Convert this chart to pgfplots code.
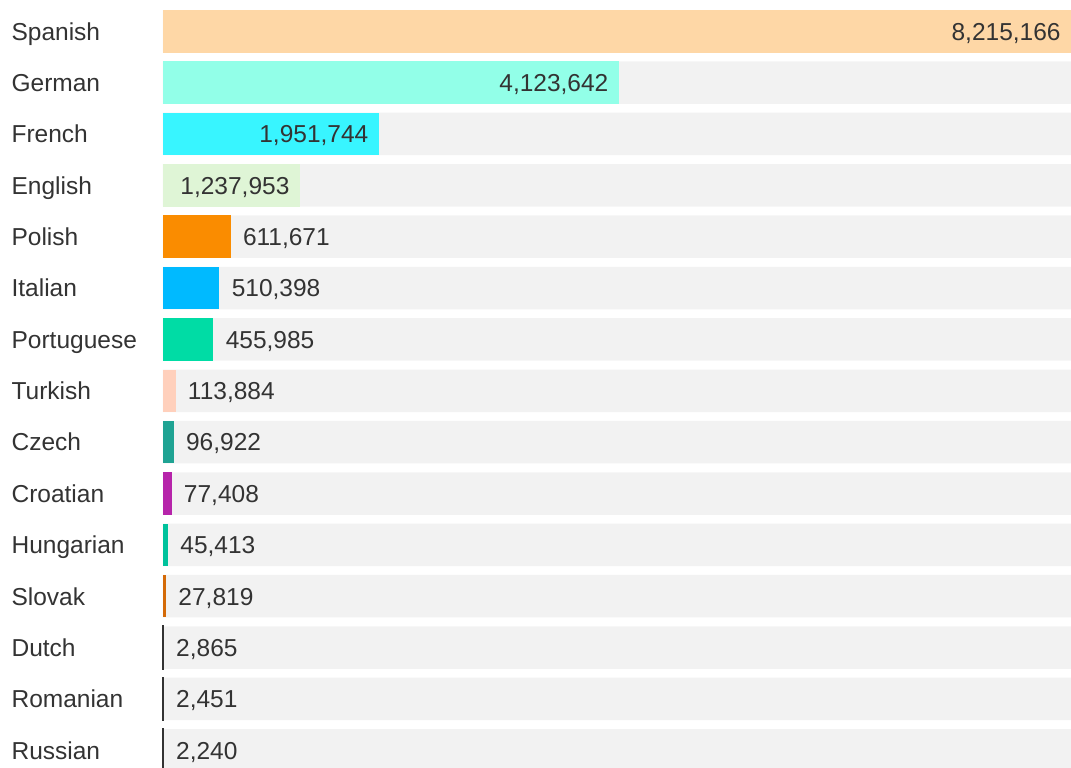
\documentclass[border=0pt]{standalone}
\usepackage{pgfplots}
\pgfplotsset{compat=1.18}
\usepackage{fontspec}
\setmainfont{Liberation Sans}
\definecolor{txt}{HTML}{333333}
\definecolor{bg}{HTML}{F2F2F2}
\definecolor{cSpa}{HTML}{FED7A6}
\definecolor{cGer}{HTML}{92FFE8}
\definecolor{cFre}{HTML}{38F5FF}
\definecolor{cEng}{HTML}{DFF5D6}
\definecolor{cPol}{HTML}{FA8C00}
\definecolor{cIta}{HTML}{00BAFF}
\definecolor{cPor}{HTML}{00DCA5}
\definecolor{cTur}{HTML}{FFD0BC}
\definecolor{cCze}{HTML}{1FA393}
\definecolor{cCro}{HTML}{B624AA}
\definecolor{cHun}{HTML}{00C29C}
\definecolor{cSlo}{HTML}{D46A08}
\definecolor{cDark}{HTML}{333333}
\begin{document}
\begin{tikzpicture}[x=1pt,y=1pt]
\useasboundingbox (0,0) rectangle (535.5,-383.5);
\clip (0,0) rectangle (535.5,-383.5);
\begin{axis}[
  at={(81.5pt,0pt)}, anchor=north west,
  scale only axis, width=454pt, height=383.5pt,
  xbar, bar shift=0pt, bar width=0.8275,
  xmin=0, xmax=8215166, ymin=-0.6085, ymax=14.325,
  y dir=reverse, enlargelimits=false, clip=false,
  axis line style={draw=none}, xtick=\empty, ytick={0,...,14},
  yticklabels={Spanish,German,French,English,Polish,Italian,Portuguese,Turkish,Czech,Croatian,Hungarian,Slovak,Dutch,Romanian,Russian},
  major tick length=0pt,
  yticklabel style={font=\fontsize{12.25}{14}\selectfont, text=txt, text width=75.5pt, align=left, inner sep=0pt, text height=8.8pt, text depth=0pt},
  inlab/.style={point meta=explicit symbolic, nodes near coords,
    nodes near coords style={anchor=east, xshift=-5pt, inner sep=0pt, font=\fontsize{12.25}{14}\selectfont, text=txt, text height=8.8pt, text depth=0pt}},
  outlab/.style={point meta=explicit symbolic, nodes near coords,
    nodes near coords style={anchor=west, xshift=6pt, inner sep=0pt, font=\fontsize{12.25}{14}\selectfont, text=txt, text height=8.8pt, text depth=0pt}},
]
\addplot[fill=bg, draw=none] coordinates {
 (8215166,0) (8215166,1) (8215166,2) (8215166,3) (8215166,4)
 (8215166,5) (8215166,6) (8215166,7) (8215166,8) (8215166,9)
 (8215166,10) (8215166,11) (8215166,12) (8215166,13) (8215166,14)};
\addplot[fill=cSpa, draw=none, inlab] coordinates {(8215166,0) [8,215,166]};
\addplot[fill=cGer, draw=none, inlab] coordinates {(4123642,1) [4,123,642]};
\addplot[fill=cFre, draw=none, inlab] coordinates {(1951744,2) [1,951,744]};
\addplot[fill=cEng, draw=none, inlab] coordinates {(1237953,3) [1,237,953]};
\addplot[fill=cPol, draw=none, outlab] coordinates {(611671,4) [611,671]};
\addplot[fill=cIta, draw=none, outlab] coordinates {(510398,5) [510,398]};
\addplot[fill=cPor, draw=none, outlab] coordinates {(455985,6) [455,985]};
\addplot[fill=cTur, draw=none, outlab] coordinates {(113884,7) [113,884]};
\addplot[fill=cCze, draw=none, outlab] coordinates {(96922,8) [96,922]};
\addplot[fill=cCro, draw=none, outlab] coordinates {(77408,9) [77,408]};
\addplot[fill=cHun, draw=none, outlab] coordinates {(45413,10) [45,413]};
\addplot[fill=cSlo, draw=none, outlab] coordinates {(27819,11) [27,819]};
\addplot[fill=cDark, draw=cDark, line width=0.9pt, outlab] coordinates {(2865,12) [2,865]};
\addplot[fill=cDark, draw=cDark, line width=0.9pt, outlab] coordinates {(2451,13) [2,451]};
\addplot[fill=cDark, draw=cDark, line width=0.9pt, outlab] coordinates {(2240,14) [2,240]};
\end{axis}
\end{tikzpicture}
\end{document}
